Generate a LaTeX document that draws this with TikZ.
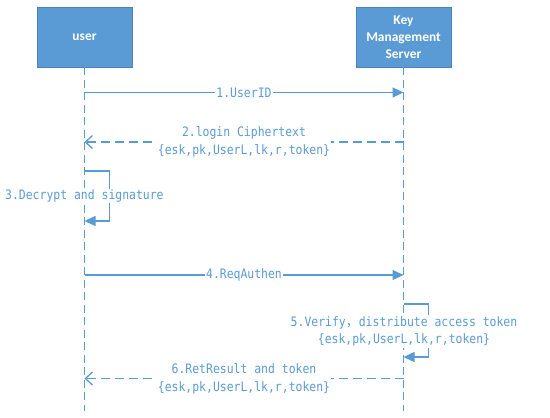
\documentclass[tikz,border=0pt]{standalone}
\usepackage{fontspec}
\setmainfont{Carlito}
\newfontfamily\lblfont[FakeStretch=0.88]{DejaVu Sans Mono}
\newfontfamily\cjkfont{Noto Sans CJK SC}
\usetikzlibrary{arrows.meta}
\definecolor{umlblue}{HTML}{5B9BD5}
\begin{document}
\begin{tikzpicture}[x=1pt,y=-1pt,
  actor/.style={draw=umlblue!85!black, line width=0.6pt, fill=umlblue, text=white, font=\fontsize{13.4}{17}\selectfont\bfseries, minimum width=95pt, minimum height=60pt, align=center, inner sep=0pt},
  lifeline/.style={draw=umlblue, line width=1.3pt, dash pattern=on 8pt off 4.5pt},
  msg/.style={draw=umlblue, line width=1.3pt, -{Triangle[length=11pt,width=10pt]}},
  ret/.style={draw=umlblue, line width=1.3pt, dash pattern=on 9pt off 5pt, -{Straight Barb[length=7pt,width=13pt,line width=1.3pt]}},
  lbl/.style={font=\lblfont\fontsize{13}{17.5}\selectfont, text=umlblue, fill=white, inner sep=1pt, align=center}
]
\useasboundingbox (0,0) rectangle (550,418);
\node[actor] (user) at (84.5,37) {user};
\node[actor] (kms) at (403.5,37) {Key\\Management\\Server};
\coordinate (uend) at (84.5,411);
\coordinate (kend) at (403.5,411);
\draw[lifeline] (user.south) -- (uend);
\draw[lifeline] (kms.south) -- (kend);
% 1
\coordinate (u1) at (84.5,92.5);
\coordinate (k1) at (403.5,92.5);
\draw[msg] (u1) -- node[lbl] (l1) {1.UserID} (k1);
% 2
\coordinate (u2) at (84.5,142);
\coordinate (k2) at (403.5,142);
\draw[ret] (k2) -- (u2);
\node[lbl] (l2) at (244,142) {2.login Ciphertext\\\{esk,pk,UserL,lk,r,token\}};
% 3
\coordinate (u3a) at (84.5,171);
\coordinate (u3b) at (84.5,221);
\draw[msg] (u3a) -- ++(25,0) -- ++(0,50) -- (u3b);
\node[lbl, anchor=west] (l3) at (4,196) {3.Decrypt and signature};
% 4
\coordinate (u4) at (84.5,275);
\coordinate (k4) at (403.5,275);
\draw[msg] (u4) -- node[lbl] (l4) {4.ReqAuthen} (k4);
% 5
\coordinate (k5a) at (403.5,304);
\coordinate (k5b) at (403.5,357);
\draw[msg] (k5a) -- ++(25,0) -- ++(0,53) -- (k5b);
\node[lbl] (l5) at (404,331.5) {5.Verify{\cjkfont ，}distribute access token\\\{esk,pk,UserL,lk,r,token\}};
% 6
\coordinate (u6) at (84.5,378.5);
\coordinate (k6) at (403.5,378.5);
\draw[ret] (k6) -- (u6);
\node[lbl] (l6) at (244,379) {6.RetResult and token\\\{esk,pk,UserL,lk,r,token\}};
\end{tikzpicture}
\end{document}
